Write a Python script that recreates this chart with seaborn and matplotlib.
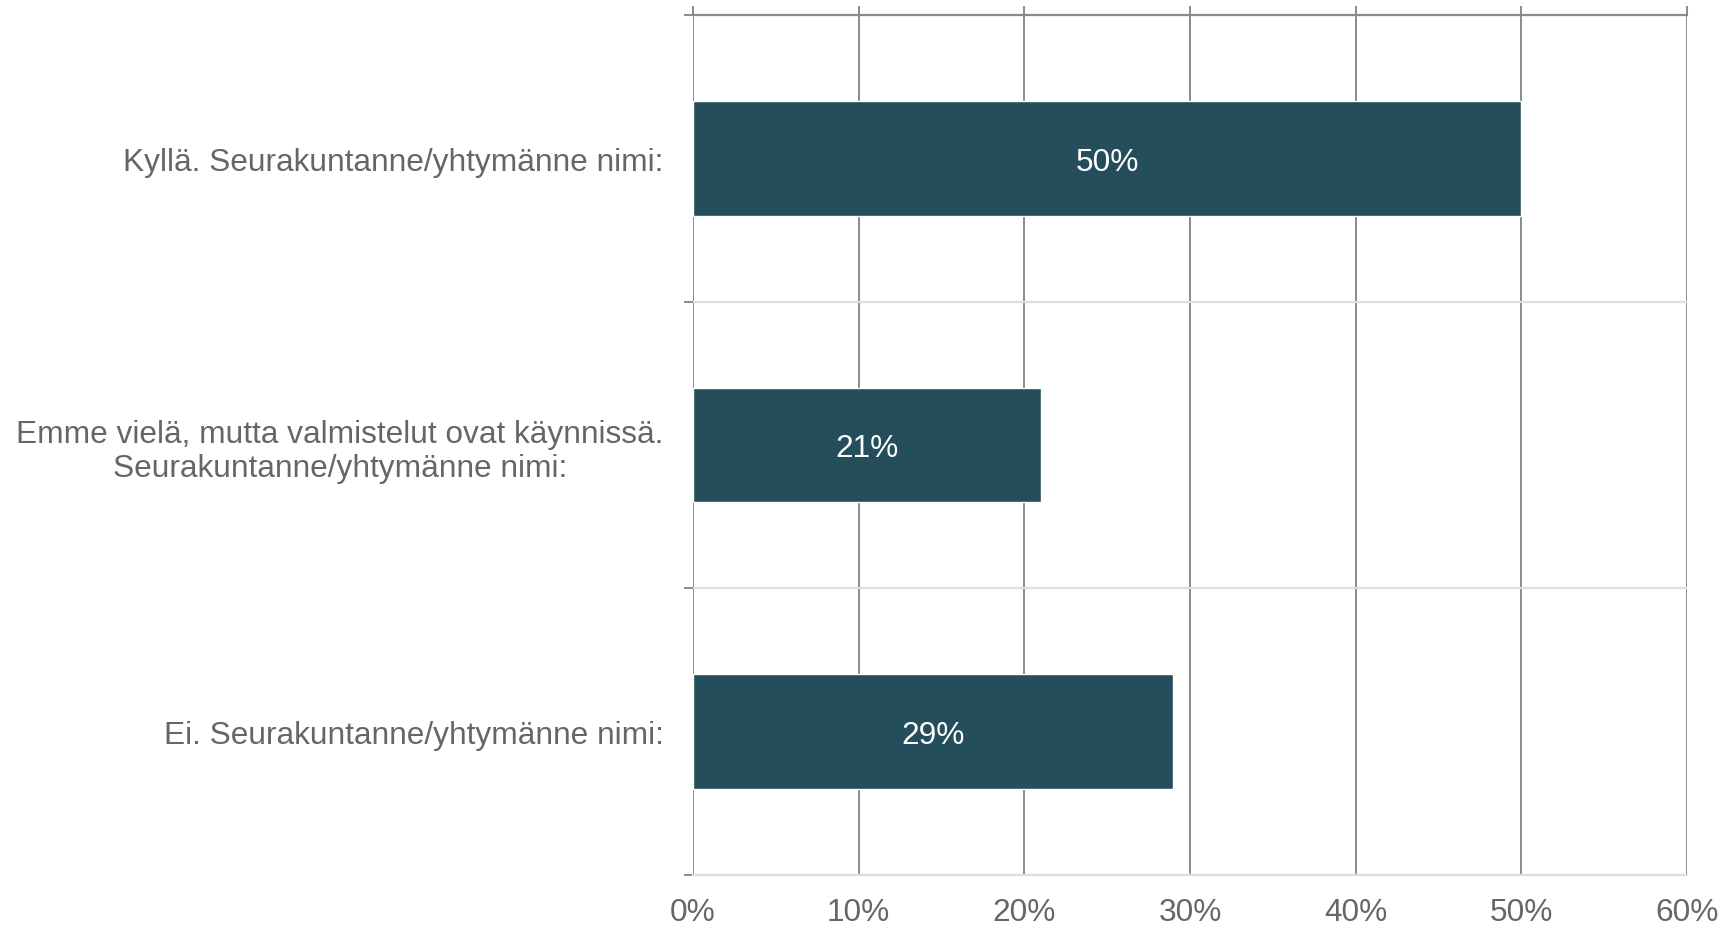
import matplotlib
matplotlib.use("Agg")
import matplotlib.pyplot as plt
import seaborn as sns
import pandas as pd

categories = [
    "Kyllä. Seurakuntanne/yhtymänne nimi:",
    "Emme vielä, mutta valmistelut ovat käynnissä.\nSeurakuntanne/yhtymänne nimi:",
    "Ei. Seurakuntanne/yhtymänne nimi:",
]
values = [50, 21, 29]
x_ticks = [0, 10, 20, 30, 40, 50, 60]
x_tick_labels = ["0%", "10%", "20%", "30%", "40%", "50%", "60%"]

sns.set_theme(style="white")
plt.rcParams["font.family"] = ["Liberation Sans", "DejaVu Sans"]

BAR = "#244e5b"
DARK = "#8a8a8a"
LIGHT = "#dedede"
TEXT = "#666666"
FS = 22.8

df = pd.DataFrame({"cat": categories, "val": values})

fig = plt.figure(figsize=(17.35, 9.28), dpi=100)
ax = fig.add_axes([693 / 1735, 1 - 876 / 928, (1687 - 693) / 1735, (876 - 16) / 928])

sns.barplot(data=df, x="val", y="cat", orient="h", color=BAR, width=0.4,
            saturation=1, ax=ax, zorder=3)

ax.set_xlim(0, 60)
ax.set_ylim(2.5, -0.5)
ax.set_xlabel("")
ax.set_ylabel("")

ax.set_xticks(x_ticks)
ax.set_xticklabels(x_tick_labels)
ax.set_yticks(range(len(categories)))
ax.set_yticklabels(categories, multialignment="center")
ax.set_yticks([-0.5, 0.5, 1.5, 2.5], minor=True)

ax.set_axisbelow(True)
ax.grid(axis="x", which="major", color=DARK, linewidth=1.4)
ax.grid(axis="y", which="minor", color=LIGHT, linewidth=1.6)
ax.grid(axis="y", which="major", visible=False)

ax.tick_params(axis="x", which="major", top=True, bottom=False, labeltop=False,
               labelbottom=True, length=6.5, width=1.4, color=DARK,
               labelsize=FS, labelcolor=TEXT, pad=9)
ax.tick_params(axis="y", which="major", left=False, length=0,
               labelsize=FS, labelcolor=TEXT, pad=21)
ax.tick_params(axis="y", which="minor", left=True, length=6.5, width=1.4,
               color=DARK)

for side in ["left", "right"]:
    ax.spines[side].set_visible(False)
ax.spines["top"].set_color(DARK)
ax.spines["top"].set_linewidth(1.6)
ax.spines["bottom"].set_color(LIGHT)
ax.spines["bottom"].set_linewidth(1.6)

for cont in ax.containers:
    texts = ax.bar_label(cont, labels=[f"{v:.0f}%" for v in values],
                         label_type="center", color="white", fontsize=FS)
    for t in texts:
        t.set_va("center_baseline")

fig.savefig("out.png", dpi=100)
